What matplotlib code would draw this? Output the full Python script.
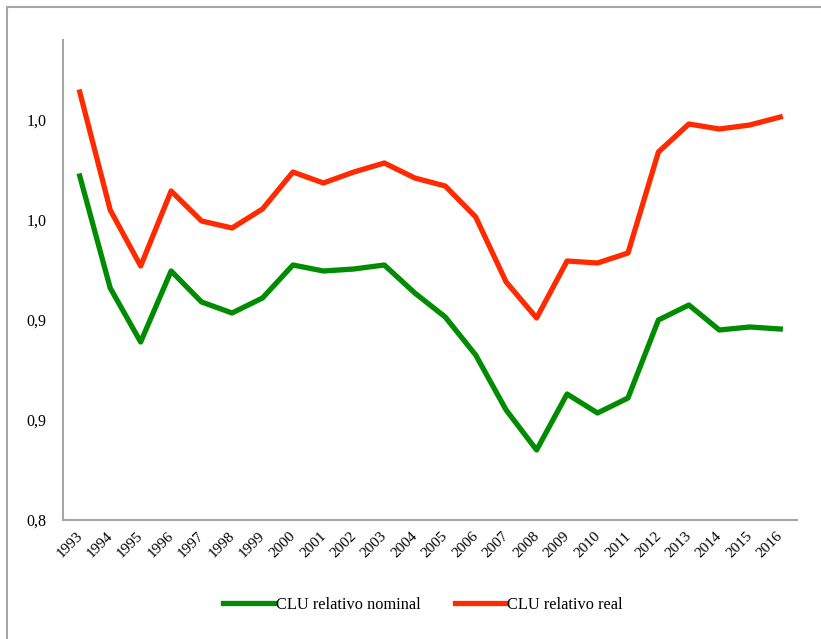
import matplotlib.pyplot as plt
from matplotlib.patches import Rectangle
from matplotlib.ticker import FuncFormatter
from matplotlib.transforms import ScaledTranslation

plt.rcParams['font.family'] = ['Liberation Serif', 'DejaVu Serif']

years = [str(a) for a in range(1993, 2017)]
nominal = [0.972, 0.916, 0.889, 0.9245, 0.909, 0.9035, 0.911, 0.9275, 0.9245, 0.9255,
           0.9275, 0.9135, 0.9015, 0.8825, 0.855, 0.835, 0.863, 0.8535, 0.861, 0.900,
           0.9075, 0.895, 0.8965, 0.8955]
real = [1.014, 0.955, 0.927, 0.9645, 0.9495, 0.946, 0.9555, 0.974, 0.9685, 0.974,
        0.9785, 0.971, 0.967, 0.9515, 0.919, 0.901, 0.9295, 0.9285, 0.9335, 0.984,
        0.998, 0.9955, 0.9975, 1.0015]
yticks = [0.80, 0.85, 0.90, 0.95, 1.00]

fig = plt.figure(figsize=(8.21, 6.39), dpi=100)
W, H = 821, 639

# marco exterior del grafico (cortado a la derecha y abajo)
fig.patches.append(Rectangle((7 / W, -0.05), 1.1, 1 - 7 / H + 0.05, transform=fig.transFigure,
                             fill=False, edgecolor='#a6a6a6', linewidth=1.5))

ax = fig.add_axes([63 / W, 1 - 520 / H, (797 - 63) / W, (520 - 40) / H])
x = list(range(len(years)))
ax.plot(x, nominal, color='#008c00', linewidth=3.8, label='CLU relativo nominal')
ax.plot(x, real, color='#ff2a00', linewidth=3.8, label='CLU relativo real')

ax.set_xlim(-0.55, len(years) - 0.45)
ax.set_ylim(0.80, 1.04)
ax.set_yticks(yticks)
ax.yaxis.set_major_formatter(FuncFormatter(lambda v, p: ('%.1f' % (v + 1e-9)).replace('.', ',')))
ax.set_xticks(x)
ax.set_xticklabels(years, rotation=45, ha='right', rotation_mode='anchor')
ax.tick_params(length=0)
ax.tick_params(axis='y', pad=12, labelsize=11.5)
ax.tick_params(axis='x', pad=7, labelsize=11)
desp = ScaledTranslation(-4 / 100, 0, fig.dpi_scale_trans)
for lab in ax.get_xticklabels():
    lab.set_transform(lab.get_transform() + desp)
for s in ['top', 'right']:
    ax.spines[s].set_visible(False)
for s in ['left', 'bottom']:
    ax.spines[s].set_color('#a6a6a6')
    ax.spines[s].set_linewidth(1.5)

fig.legend(loc='center', bbox_to_anchor=(423 / W, 1 - 605 / H), ncol=2, frameon=False,
           fontsize=11.8, handlelength=3.1, handletextpad=0.1, columnspacing=2.1)

fig.savefig('out.png', dpi=100)
